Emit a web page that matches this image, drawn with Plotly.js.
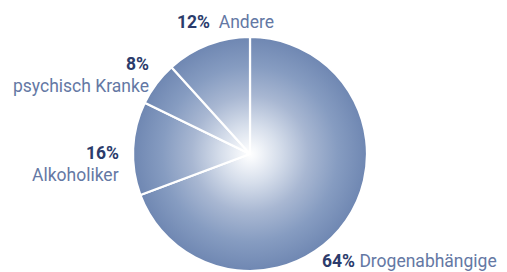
<!DOCTYPE html>
<html>
<head>
<meta charset="utf-8">
<script src="https://cdn.plot.ly/plotly-3.0.1.min.js"></script>
<style>
  html, body { margin: 0; padding: 0; background: #ffffff; }
  #chart { width: 507px; height: 272px; }
</style>
</head>
<body>
<div id="chart"></div>
<script>
// Categories (clockwise from 12 o'clock)
const categories = ["Drogenabhängige", "Alkoholiker", "psychisch Kranke", "Andere"];
// Percentages as printed on the chart
const printedPercent = [64, 16, 8, 12];
// Slice sizes as drawn in the reference (angular share, %)
const drawnShare = [69.3, 12.9, 6.1, 11.7];

const pctColor = "#2b3b6b";
const labColor = "#6478a4";
const fontFam = "Roboto, 'Open Sans', sans-serif";

const trace = {
  type: "pie",
  labels: categories,
  values: drawnShare,
  sort: false,
  direction: "clockwise",
  rotation: 0,
  textinfo: "none",
  hoverinfo: "none",
  marker: { colors: ["#7189b5", "#7189b5", "#7189b5", "#7189b5"], line: { color: "#ffffff", width: 2.2 } },
  domain: { x: [133 / 507, 367 / 507], y: [1 / 272, 235 / 272] },
  showlegend: false
};

function pct(i) { return "<b>" + printedPercent[i] + "%</b>"; }

const annotations = [
  // Andere (index 3)
  { x: 175 / 507, y: 1 - 22 / 272, xanchor: "left", yanchor: "middle",
    text: pct(3) + "  <span style='color:" + labColor + "'>" + categories[3] + "</span>" },
  // psychisch Kranke (index 2)
  { x: 151 / 507, y: 1 - 64 / 272, xanchor: "right", yanchor: "middle", text: pct(2) },
  { x: 151 / 507, y: 1 - 86 / 272, xanchor: "right", yanchor: "middle",
    text: "<span style='color:" + labColor + "'>" + categories[2] + "</span>" },
  // Alkoholiker (index 1)
  { x: 121 / 507, y: 1 - 153 / 272, xanchor: "right", yanchor: "middle", text: pct(1) },
  { x: 121 / 507, y: 1 - 175 / 272, xanchor: "right", yanchor: "middle",
    text: "<span style='color:" + labColor + "'>" + categories[1] + "</span>" },
  // Drogenabhängige (index 0)
  { x: 321 / 507, y: 0, xanchor: "left", yanchor: "bottom", borderpad: 0,
    text: pct(0) + " <span style='color:" + labColor + "'>" + categories[0] + "</span>" }
].map(a => Object.assign({ xref: "paper", yref: "paper", showarrow: false,
  font: { family: fontFam, size: 17.5, color: pctColor } }, a));

const layout = {
  width: 507, height: 272,
  margin: { l: 0, r: 0, t: 0, b: 0 },
  paper_bgcolor: "#ffffff",
  plot_bgcolor: "#ffffff",
  annotations: annotations
};

Plotly.newPlot("chart", [trace], layout, { staticPlot: true, displayModeBar: false }).then(gd => {
  // Radial gradient fill (white centre to blue rim), centred on the pie computed by Plotly
  const cd0 = gd.calcdata[0][0];
  const svgNS = "http://www.w3.org/2000/svg";
  const svg = gd.querySelector(".main-svg");
  let defs = svg.querySelector("defs");
  if (!defs) { defs = document.createElementNS(svgNS, "defs"); svg.insertBefore(defs, svg.firstChild); }
  const grad = document.createElementNS(svgNS, "radialGradient");
  grad.setAttribute("id", "pieGrad");
  grad.setAttribute("gradientUnits", "userSpaceOnUse");
  grad.setAttribute("cx", cd0.cx);
  grad.setAttribute("cy", cd0.cy);
  grad.setAttribute("r", cd0.r);
  const stops = [[0, "#ffffff"], [0.06, "#f6f8fb"], [0.25, "#d6deeb"], [0.5, "#a8b7d2"], [0.75, "#869cc1"], [1, "#6f87b2"]];
  stops.forEach(([o, c]) => {
    const s = document.createElementNS(svgNS, "stop");
    s.setAttribute("offset", o);
    s.setAttribute("stop-color", c);
    grad.appendChild(s);
  });
  defs.appendChild(grad);
  gd.querySelectorAll(".slice path.surface").forEach(p => { p.style.fill = "url(#pieGrad)"; });
});
</script>
</body>
</html>
